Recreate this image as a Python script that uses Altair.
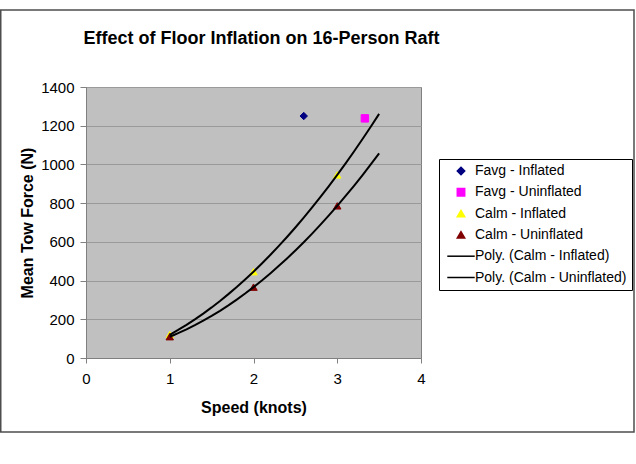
import altair as alt
import pandas as pd

# Tow-force measurements for the 16-person raft
calm_speed = [1, 2, 3]
calm_inflated = [120, 446, 946]
calm_uninflated = [110, 366, 786]

favg_series = ["Favg - Inflated", "Favg - Uninflated"]
favg_speed = [2.6, 3.33]
favg_force = [1250, 1238]

x_ticks = [0, 1, 2, 3, 4]
y_ticks = [0, 200, 400, 600, 800, 1000, 1200, 1400]

series_names = [
    "Favg - Inflated",
    "Favg - Uninflated",
    "Calm - Inflated",
    "Calm - Uninflated",
    "Poly. (Calm - Inflated)",
    "Poly. (Calm - Uninflated)",
]
series_colors = ["#000080", "#FF00FF", "#FFFF00", "#800000", "#000000", "#000000"]
LINE_SYMBOL = "M-3.7,0L3.7,0"
series_shapes = ["diamond", "square", "triangle-up", "triangle-up", LINE_SYMBOL, LINE_SYMBOL]

FONT = "Liberation Sans"

calm_df = pd.DataFrame(
    {
        "speed": calm_speed * 2,
        "force": calm_inflated + calm_uninflated,
        "series": ["Calm - Inflated"] * 3 + ["Calm - Uninflated"] * 3,
    }
)
favg_df = pd.DataFrame({"speed": favg_speed, "force": favg_force, "series": favg_series})
points_df = pd.concat([favg_df, calm_df], ignore_index=True)

color_scale = alt.Scale(domain=series_names, range=series_colors)
shape_scale = alt.Scale(domain=series_names, range=series_shapes)

legend = alt.Legend(
    title=None,
    orient="none",
    legendX=353,
    legendY=72,
    fillColor="#FFFFFF",
    strokeColor="#000000",
    padding=5,
    symbolSize=55,
    symbolStrokeWidth=1.5,
    symbolOffset=10,
    labelOffset=7,
    labelFont=FONT,
    labelFontSize=14,
    labelColor="#000000",
    labelLimit=0,
    rowPadding=7.3,
)

x_enc = alt.X(
    "speed:Q",
    scale=alt.Scale(domain=[0, 4], nice=False),
    axis=alt.Axis(
        values=x_ticks,
        format="d",
        grid=False,
        domainColor="#808080",
        tickColor="#808080",
        tickSize=5,
        labelFont=FONT,
        labelFontSize=15,
        labelColor="#000000",
        labelPadding=8,
        labelFlush=False,
        labelOverlap=False,
        title="Speed (knots)",
        titleFont=FONT,
        titleFontSize=16,
        titleFontWeight="bold",
        titleColor="#000000",
        titleBaseline="alphabetic",
        titleY=54,
    ),
)
y_enc = alt.Y(
    "force:Q",
    scale=alt.Scale(domain=[0, 1400], nice=False),
    axis=alt.Axis(
        values=y_ticks,
        tickCount=len(y_ticks),
        format="d",
        grid=True,
        gridColor="#9A9A9A",
        gridWidth=1,
        domainColor="#808080",
        tickColor="#808080",
        tickSize=6,
        labelFont=FONT,
        labelFontSize=15,
        labelColor="#000000",
        labelPadding=6,
        labelFlush=False,
        labelOverlap=False,
        title="Mean Tow Force (N)",
        titleFont=FONT,
        titleFontSize=16,
        titleFontWeight="bold",
        titleColor="#000000",
        titleBaseline="alphabetic",
        titleX=-53.5,
    ),
)

points = alt.Chart(points_df).mark_point(filled=True, size=55, strokeWidth=1, opacity=1).encode(
    x=x_enc,
    y=y_enc,
    fill=alt.Fill("series:N", scale=color_scale, legend=legend),
    stroke=alt.Stroke("series:N", scale=color_scale, legend=legend),
    shape=alt.Shape("series:N", scale=shape_scale, legend=legend),
)

# Second-order polynomial trend lines, projected forward to 3.5 knots
trend = (
    alt.Chart(calm_df)
    .transform_regression(
        "speed", "force", method="poly", order=2, extent=[1, 3.5], groupby=["series"]
    )
    .transform_calculate(series="'Poly. (' + datum.series + ')'")
    .mark_line(strokeWidth=2)
    .encode(
        x=x_enc,
        y=y_enc,
        stroke=alt.Stroke("series:N", scale=color_scale, legend=None),
    )
)

# Frame around the whole chart
border = (
    alt.Chart(pd.DataFrame({"k": [0]}))
    .mark_rect(fill="transparent", stroke="#4D4D4D", strokeWidth=1.5)
    .encode(x=alt.value(-85.25), x2=alt.value(548), y=alt.value(-77), y2=alt.value(345))
)

chart = (
    alt.layer(border, points, trend)
    .properties(
        width=335,
        height=271,
        padding={"left": 86, "top": 87, "right": 215, "bottom": 106},
        autosize=alt.AutoSizeParams(type="none"),
        title=alt.Title(
            "Effect of Floor Inflation on 16-Person Raft",
            font=FONT,
            fontSize=18,
            fontWeight="bold",
            color="#000000",
            anchor="middle",
            frame="group",
            baseline="alphabetic",
            offset=0,
            dy=53,
            dx=8,
        ),
        background="#FFFFFF",
    )
    .configure_view(fill="#C0C0C0", stroke="#808080", strokeWidth=1)
)

chart.save("out.html", embed_options={"renderer": "svg", "actions": False})
